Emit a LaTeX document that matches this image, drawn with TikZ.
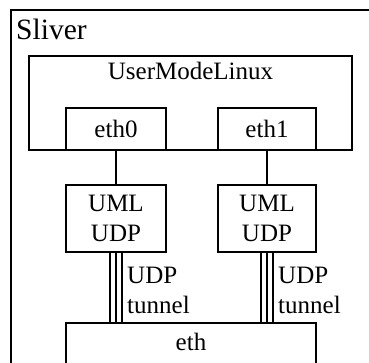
\documentclass[tikz,border=0pt]{standalone}
\usepackage{fontspec}
\setmainfont{Liberation Serif}
\usepackage{tikz}
\usetikzlibrary{calc}

\tikzset{
	box/.style = {draw, line width = 1.5pt, inner sep = 0pt, align = center, fill = white},
	wire/.style = {line width = 1.5pt},
}

\begin{document}
\begin{tikzpicture}[x = 1pt, y = 1pt, font = \fontsize{25}{30}\selectfont]
				\useasboundingbox (0, 0) rectangle (369, 362);
				\clip (0, 0) rectangle (369, 362);

				\draw[line width = 2pt] (11, -20) rectangle (420, 352);
				\node[anchor = base west, inner sep = 0pt, font = \fontsize{29.5}{34}\selectfont] (sliver) at (16, 322) {Sliver};

				\draw[wire] (29, 212) rectangle (352, 306);
				\node[anchor = base, inner sep = 0pt] (uml) at (190.5, 282) {UserModeLinux};

				\node[box, minimum width = 100pt, minimum height = 42pt] (etha) at (116, 233) {eth0};
				\node[box, minimum width = 98pt, minimum height = 42pt] (ethb) at (267, 233) {eth1};

				\node[box, minimum width = 100pt, minimum height = 67pt] (udpa) at (116, 143.5) {UML\\UDP};
				\node[box, minimum width = 98pt, minimum height = 67pt] (udpb) at (267, 143.5) {UML\\UDP};

				\node[box, anchor = base, text height = 17pt, text depth = 35pt, inner ysep = 10pt, minimum width = 250pt] (eth) at (191, 12) {eth};

				\draw[wire] (etha)--(udpa);
				\draw[wire] (ethb)--(udpb);

				\foreach \u in {udpa, udpb}{
					\foreach \dx in {-6, 0, 6}
						\draw[wire] ([xshift = \dx pt]\u.south)--([xshift = \dx pt]\u.south |- eth.north);
				}

				\node[anchor = west, align = left, inner sep = 0pt] (tuna) at (127, 72) {UDP\\tunnel};
				\node[anchor = west, align = left, inner sep = 0pt] (tunb) at (278, 72) {UDP\\tunnel};
			\end{tikzpicture}
\end{document}
